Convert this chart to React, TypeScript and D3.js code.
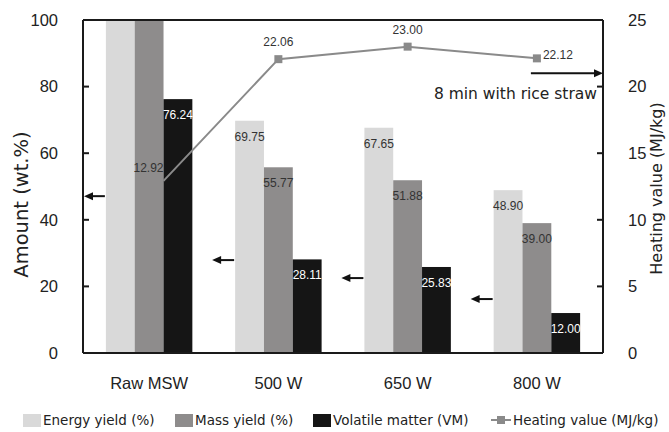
import React from "react";
import * as d3 from "d3";

const categories = ["Raw MSW", "500 W", "650 W", "800 W"];
const seriesKeys = ["energy", "mass", "vm"];
const seriesNames = ["Energy yield (%)", "Mass yield (%)", "Volatile matter (VM)"];
const energyYield = [100, 69.75, 67.65, 48.9];
const massYield = [100, 55.77, 51.88, 39.0];
const volatileMatter = [76.24, 28.11, 25.83, 12.0];
const heatingValue = [12.92, 22.06, 23.0, 22.12];
const showBarLabel = [false, true, true, true];
const leftTicks = [0, 20, 40, 60, 80, 100];
const rightTicks = [0, 5, 10, 15, 20, 25];
const arrowLevels = [47.1, 27.9, 22.5, 16.2];
const rightArrowLevel = 21.0;
const annotationText = "8 min with rice straw";
const lineName = "Heating value (MJ/kg)";

const W = 669;
const H = 432;
const M = { left: 83, right: 603, top: 20, bottom: 353 };
const COLORS = ["#d9d9d9", "#8e8c8c", "#151515"];
const LABEL_COLORS = ["#333", "#333", "#fff"];
const LINE_COLOR = "#8a8a8a";
const AXIS = "#1a1a1a";
const SANS = "'DejaVu Sans', Verdana, sans-serif";
const ARIAL = "'Liberation Sans', Arial, sans-serif";

export default function App() {
  const x0 = d3
    .scaleBand<string>()
    .domain(categories)
    .range([M.left, M.right])
    .paddingInner(0.331)
    .paddingOuter(0.177);
  const x1 = d3.scaleBand<string>().domain(seriesKeys).range([0, x0.bandwidth()]);
  const yL = d3.scaleLinear().domain([0, 100]).range([M.bottom, M.top]);
  const yR = d3.scaleLinear().domain([0, 25]).range([M.bottom, M.top]);

  const series = [energyYield, massYield, volatileMatter];

  const linePts: [number, number][] = heatingValue.map((v, i) => {
    const cx =
      i === 0
        ? (x0(categories[i]) as number) + (x1("vm") as number)
        : (x0(categories[i]) as number) + x0.bandwidth() / 2;
    return [cx, yR(v)];
  });
  const linePath = d3.line()(linePts) as string;

  const arrowHead = (x: number, y: number, dir: number) =>
    `M${x},${y} L${x - dir * 9},${y - 4} L${x - dir * 9},${y + 4} Z`;

  return (
    <svg
      width={W}
      height={H}
      style={{ position: "absolute", left: 0, top: 0, background: "#fff" }}
    >
      {/* bars */}
      {categories.map((c, i) => (
        <g key={c}>
          {series.map((s, k) => {
            const bx = (x0(c) as number) + (x1(seriesKeys[k]) as number);
            const by = yL(s[i]);
            return (
              <g key={k}>
                <rect
                  x={bx}
                  y={by}
                  width={x1.bandwidth()}
                  height={M.bottom - by}
                  fill={COLORS[k]}
                />
                {showBarLabel[i] || k === 2 ? (
                  <text
                    x={bx + x1.bandwidth() / 2}
                    y={by + 20}
                    textAnchor="middle"
                    fontFamily={ARIAL}
                    fontSize={12}
                    fill={LABEL_COLORS[k]}
                  >
                    {s[i].toFixed(2)}
                  </text>
                ) : null}
              </g>
            );
          })}
        </g>
      ))}

      {/* frame */}
      <line x1={M.left} x2={M.right} y1={M.top} y2={M.top} stroke={AXIS} strokeWidth={2} />
      <line x1={M.left} x2={M.right} y1={M.bottom} y2={M.bottom} stroke={AXIS} strokeWidth={2} />
      <line x1={M.left} x2={M.left} y1={M.top} y2={M.bottom} stroke={AXIS} strokeWidth={2} />
      <line x1={M.right} x2={M.right} y1={M.top} y2={M.bottom} stroke={AXIS} strokeWidth={2} />

      {/* left axis */}
      {leftTicks.map((t) => (
        <g key={t}>
          <line x1={M.left} x2={M.left + 6} y1={yL(t)} y2={yL(t)} stroke={AXIS} strokeWidth={2} />
          <text
            x={58}
            y={yL(t)}
            dy="0.35em"
            textAnchor="end"
            fontFamily={ARIAL}
            fontSize={16.5}
            fill="#222"
          >
            {t}
          </text>
        </g>
      ))}
      {/* right axis */}
      {rightTicks.map((t) => (
        <g key={t}>
          <line x1={M.right - 6} x2={M.right} y1={yR(t)} y2={yR(t)} stroke={AXIS} strokeWidth={2} />
          <text
            x={628}
            y={yR(t)}
            dy="0.35em"
            textAnchor="start"
            fontFamily={ARIAL}
            fontSize={16.5}
            fill="#222"
          >
            {t}
          </text>
        </g>
      ))}

      {/* axis titles */}
      <text
        transform={`translate(28,${(M.top + M.bottom) / 2 + 18}) rotate(-90)`}
        textAnchor="middle"
        fontFamily={SANS}
        fontSize={19.5}
        fill="#222"
      >
        Amount (wt.%)
      </text>
      <text
        transform={`translate(662,${(M.top + M.bottom) / 2 + 2}) rotate(-90)`}
        textAnchor="middle"
        fontFamily={SANS}
        fontSize={16}
        fill="#222"
      >
        {lineName}
      </text>

      {/* category labels */}
      {categories.map((c) => (
        <text
          key={c}
          x={(x0(c) as number) + x0.bandwidth() / 2}
          y={389}
          textAnchor="middle"
          fontFamily={ARIAL}
          fontSize={16.5}
          fill="#222"
        >
          {c}
        </text>
      ))}

      {/* left-pointing arrows */}
      {categories.map((c, i) => {
        const xe = x0(c) as number;
        const ys = yL(arrowLevels[i]);
        const xs = i === 0 ? M.left + 1 : xe - 23;
        return (
          <g key={c}>
            <line x1={xs + 6} x2={xe - 1} y1={ys} y2={ys} stroke="#111" strokeWidth={2} />
            <path d={arrowHead(xs, ys, -1)} fill="#111" />
          </g>
        );
      })}
      {/* right-pointing arrow */}
      {(() => {
        const ys = yR(rightArrowLevel);
        const xs = (x0(categories[3]) as number) + x0.bandwidth() / 2 - 6;
        return (
          <g>
            <line x1={xs} x2={M.right - 6} y1={ys} y2={ys} stroke="#111" strokeWidth={2} />
            <path d={arrowHead(M.right, ys, 1)} fill="#111" />
          </g>
        );
      })()}
      <text
        x={597}
        y={99}
        textAnchor="end"
        fontFamily={SANS}
        fontSize={15.5}
        fill="#222"
      >
        {annotationText}
      </text>

      {/* heating value line */}
      <path d={linePath} fill="none" stroke={LINE_COLOR} strokeWidth={2} />
      {linePts.map(([cx, cy], i) =>
        i === 0 ? null : (
          <rect key={i} x={cx - 4} y={cy - 4} width={8} height={8} fill={LINE_COLOR} />
        )
      )}
      {linePts.map(([cx, cy], i) => {
        let tx = cx;
        let ty = cy - 13;
        let anchor: "start" | "middle" | "end" = "middle";
        if (i === 0) {
          anchor = "end";
          ty = cy - 9;
        } else if (i === 3) {
          anchor = "start";
          tx = cx + 6;
          ty = cy + 1;
        }
        return (
          <text
            key={i}
            x={tx}
            y={ty}
            textAnchor={anchor}
            fontFamily={ARIAL}
            fontSize={12}
            fill="#333"
          >
            {heatingValue[i].toFixed(2)}
          </text>
        );
      })}

      {/* legend */}
      {[
        { x: 23, k: 0 },
        { x: 175, k: 1 },
        { x: 313, k: 2 },
      ].map(({ x, k }) => (
        <g key={k}>
          <rect x={x} y={414} width={18} height={13} fill={COLORS[k]} />
          <text x={x + 20} y={425} fontFamily={SANS} fontSize={13.5} fill="#222">
            {seriesNames[k]}
          </text>
        </g>
      ))}
      <g>
        <line x1={491} x2={511} y1={420} y2={420} stroke={LINE_COLOR} strokeWidth={2} />
        <rect x={497} y={416} width={8} height={8} fill={LINE_COLOR} />
        <text x={513} y={425} fontFamily={SANS} fontSize={13.5} fill="#222">
          {lineName}
        </text>
      </g>
    </svg>
  );
}
